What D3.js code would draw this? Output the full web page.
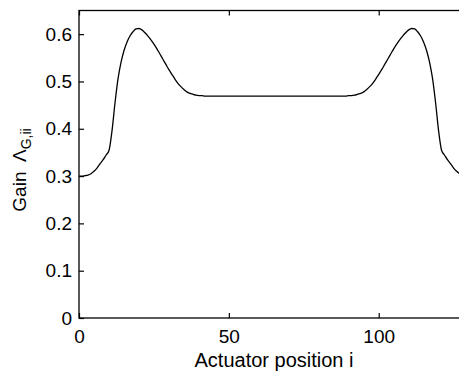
<!DOCTYPE html>
<html>
<head>
<meta charset="utf-8">
<script src="https://cdn.jsdelivr.net/npm/d3@7"></script>
<style>
  html, body { margin: 0; padding: 0; background: #fff; }
  svg { display: block; }
  text { font-family: "Liberation Sans", Arial, Helvetica, sans-serif; fill: #000; }
</style>
</head>
<body>
<svg id="chart" width="459" height="372"></svg>
<script>
// ---- data ----
const positions = [
  0,1,2,3,4,5,6,7,8,9,10,11,12,13,14,15,16,17,18,19,20,21,22,23,24,25,26,27,28,29,
  30,31,32,33,34,35,36,37,38,39,40,41,42,43,44,50,60,70,80,
  87,88,89,90,91,92,93,94,95,96,97,98,99,100,101,102,103,104,105,106,107,108,109,
  110,111,112,113,114,115,116,117,118,119,120,121,122,123,124,125,126,127,128,129,130,131
];
const gain = [
  0.300,0.300,0.301,0.302,0.305,0.310,0.317,0.326,0.334,0.344,0.354,0.395,0.454,0.505,0.540,
  0.565,0.583,0.596,0.605,0.611,0.612,0.609,0.603,0.596,0.588,0.579,0.569,0.558,0.547,0.536,
  0.525,0.515,0.505,0.496,0.489,0.483,0.478,0.475,0.473,0.471,0.470,0.470,0.469,0.469,0.469,
  0.469,0.469,0.469,0.469,
  0.469,0.469,0.469,0.470,0.470,0.471,0.473,0.475,0.478,0.483,0.489,0.496,0.505,0.515,0.525,
  0.536,0.547,0.558,0.569,0.579,0.588,0.596,0.603,0.609,0.612,0.611,0.605,0.596,0.583,0.565,
  0.540,0.505,0.454,0.395,0.354,0.344,0.334,0.326,0.317,0.310,0.305,0.302,0.301,0.300,0.300
];
const xTicks = [0, 50, 100];
const yTicks = [0, 0.1, 0.2, 0.3, 0.4, 0.5, 0.6];
const xLabel = "Actuator position i";
const yLabelMain = "Gain";
const yLabelSym = "\u039B";
const yLabelSub = "G,ii";
const xDomain = [0, 131];
const yDomain = [0, 0.65];

// ---- layout ----
const svg = d3.select("#chart");
const mLeft = 79, mTop = 10.5, mBottom = 318;
const pxPerUnit = 2.997;
const mRight = mLeft + (xDomain[1] - xDomain[0]) * pxPerUnit;

const x = d3.scaleLinear().domain(xDomain).range([mLeft, mRight]);
const y = d3.scaleLinear().domain(yDomain).range([mBottom, mTop]);

const g = svg.append("g");

g.append("rect")
  .attr("x", mLeft).attr("y", mTop)
  .attr("width", mRight - mLeft).attr("height", mBottom - mTop)
  .attr("fill", "none").attr("stroke", "#000").attr("stroke-width", 1.3);

const tl = 5;
const fontFam = '"Liberation Sans", Arial, sans-serif';
const xAxisB = d3.axisBottom(x).tickValues(xTicks).tickSizeInner(-tl).tickSizeOuter(0).tickPadding(12)
  .tickFormat(d3.format("d"));
const gx = g.append("g").attr("transform", `translate(0,${mBottom})`).call(xAxisB);
gx.select(".domain").remove();
gx.selectAll("line").attr("stroke", "#000").attr("stroke-width", 1.2);
gx.selectAll("text").attr("font-size", 19).attr("fill", "#000").style("font-family", fontFam);

const xAxisT = d3.axisTop(x).tickValues(xTicks).tickSizeInner(-tl).tickSizeOuter(0).tickFormat("");
const gxt = g.append("g").attr("transform", `translate(0,${mTop})`).call(xAxisT);
gxt.select(".domain").remove();
gxt.selectAll("line").attr("stroke", "#000").attr("stroke-width", 1.2);

const yAxisL = d3.axisLeft(y).tickValues(yTicks).tickSizeInner(-tl).tickSizeOuter(0).tickPadding(7)
  .tickFormat(d => d === 0 ? "0" : d3.format(".1f")(d));
const gy = g.append("g").attr("transform", `translate(${mLeft},0)`).call(yAxisL);
gy.select(".domain").remove();
gy.selectAll("line").attr("stroke", "#000").attr("stroke-width", 1.2);
gy.selectAll("text").attr("font-size", 19).attr("fill", "#000").style("font-family", fontFam);

const yAxisR = d3.axisRight(y).tickValues(yTicks).tickSizeInner(-tl).tickSizeOuter(0).tickFormat("");
const gyr = g.append("g").attr("transform", `translate(${mRight},0)`).call(yAxisR);
gyr.select(".domain").remove();
gyr.selectAll("line").attr("stroke", "#000");

const data = positions.map((p, i) => ({ p, v: gain[i] }));
const line = d3.line().x(d => x(d.p)).y(d => y(d.v)).curve(d3.curveMonotoneX);
g.append("path").datum(data)
  .attr("d", line)
  .attr("fill", "none").attr("stroke", "#000").attr("stroke-width", 1.3);

svg.append("text")
  .attr("x", (mLeft + 379) / 2 + 45).attr("y", 367)
  .attr("text-anchor", "middle").attr("font-size", 20)
  .text(xLabel);

const yl = svg.append("text")
  .attr("transform", `translate(26,170) rotate(-90)`)
  .attr("text-anchor", "middle").attr("font-size", 19);
yl.append("tspan").text(yLabelMain + "\u2002");
yl.append("tspan").text(yLabelSym);
yl.append("tspan").attr("font-size", 14).attr("dy", 5).text(yLabelSub);
</script>
</body>
</html>
